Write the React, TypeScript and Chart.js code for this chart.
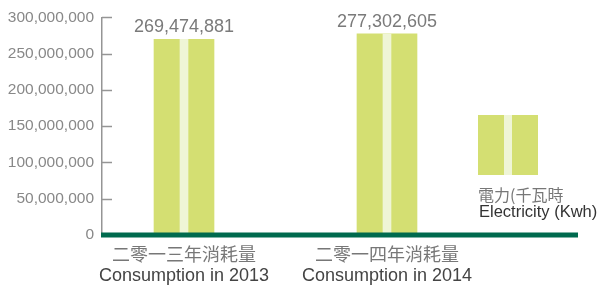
import React, { useEffect, useRef } from 'react';
import { Chart, registerables } from 'chart.js';

Chart.register(...registerables);

const categoriesZh = ['二零一三年消耗量', '二零一四年消耗量'];
const categoriesEn = ['Consumption in 2013', 'Consumption in 2014'];
const values = [269474881, 277302605];
const yMin = 0;
const yMax = 300000000;
const yStep = 50000000;
const legendZh = '電力(千瓦時';
const legendEn = 'Electricity (Kwh)';

const BAR = '#d4df72';
const STRIPE = '#eff5d6';
const BASE = '#006a4e';
const AXIS = '#959595';
const LATIN = '"Liberation Sans", Arial, Helvetica, sans-serif';
const CJK = '"Noto Sans CJK TC", "Noto Sans CJK SC", sans-serif';

const fmt = (v: number) => Number(v).toLocaleString('en-US');

const decorPlugin = {
  id: 'decor',
  afterDatasetsDraw(chart: any) {
    const ctx = chart.ctx as CanvasRenderingContext2D;
    const area = chart.chartArea;
    const xs = chart.scales.x;
    const ys = chart.scales.y;
    const y0 = ys.getPixelForValue(0);
    ctx.save();

    // inward tick marks
    ctx.strokeStyle = AXIS;
    ctx.lineWidth = 1.5;
    ys.ticks.forEach((t: any) => {
      if (t.value === 0) return;
      const py = Math.round(ys.getPixelForValue(t.value)) + 0.5;
      ctx.beginPath();
      ctx.moveTo(area.left, py);
      ctx.lineTo(area.left + 10, py);
      ctx.stroke();
    });

    // baseline
    ctx.fillStyle = BASE;
    ctx.fillRect(area.left - 1, y0 - 2.5, area.right - area.left + 1, 5);

    // value labels
    const meta = chart.getDatasetMeta(0);
    ctx.fillStyle = '#7a7a7a';
    ctx.font = `18px ${LATIN}`;
    ctx.textAlign = 'center';
    ctx.textBaseline = 'alphabetic';
    meta.data.forEach((el: any, i: number) => {
      ctx.fillText(fmt(values[i]), el.x, el.y - 7);
    });

    // category labels
    ctx.textBaseline = 'middle';
    categoriesZh.forEach((c, i) => {
      const px = xs.getPixelForValue(i + 1);
      ctx.fillStyle = '#777';
      ctx.font = `18px ${CJK}`;
      ctx.fillText(c, px, y0 + 19);
      ctx.fillStyle = '#444';
      ctx.font = `18px ${LATIN}`;
      ctx.fillText(categoriesEn[i], px, y0 + 41);
    });

    // legend
    const lx = 478;
    const ly = 115;
    ctx.fillStyle = BAR;
    ctx.fillRect(lx, ly, 60, 60);
    ctx.fillStyle = STRIPE;
    ctx.fillRect(lx + 26, ly, 8, 60);
    ctx.textAlign = 'left';
    ctx.fillStyle = '#777';
    ctx.font = `16px ${CJK}`;
    ctx.fillText(legendZh, lx, 195);
    ctx.fillStyle = '#333';
    ctx.font = `16.5px ${LATIN}`;
    ctx.fillText(legendEn, lx + 1, 212);

    ctx.restore();
  },
};

export default function App() {
  const ref = useRef<HTMLCanvasElement | null>(null);
  useEffect(() => {
    if (!ref.current) return;
    const pts = values.map((v, i) => ({ x: i + 1, y: v }));
    const chart = new Chart(ref.current, {
      type: 'bar',
      data: {
        datasets: [
          {
            data: pts,
            backgroundColor: BAR,
            barThickness: 60,
            grouped: false,
            order: 2,
          } as any,
          {
            data: pts,
            backgroundColor: STRIPE,
            barThickness: 8,
            grouped: false,
            order: 1,
          } as any,
        ],
      },
      options: {
        animation: false,
        responsive: false,
        devicePixelRatio: 1,
        layout: { padding: { top: 16, bottom: 51, right: 23, left: 0 } },
        plugins: { legend: { display: false }, tooltip: { enabled: false } },
        scales: {
          x: { type: 'linear', display: false, offset: false, min: 0.596, max: 2.941 },
          y: {
            min: yMin,
            max: yMax,
            afterFit: (s: any) => {
              s.width = 102;
            },
            ticks: {
              stepSize: yStep,
              color: '#888',
              padding: 8,
              font: { family: LATIN, size: 15.5 },
              callback: (v: any) => fmt(v),
            },
            grid: { display: false, drawTicks: false },
            border: { display: true, color: AXIS, width: 1.5 },
          },
        },
      } as any,
      plugins: [decorPlugin],
    });
    return () => chart.destroy();
  }, []);
  return (
    <div style={{ position: 'fixed', left: 0, top: 0, width: 601, height: 286, background: '#fff' }}>
      <canvas ref={ref} width={601} height={286} style={{ display: 'block', width: 601, height: 286 }} />
    </div>
  );
}
